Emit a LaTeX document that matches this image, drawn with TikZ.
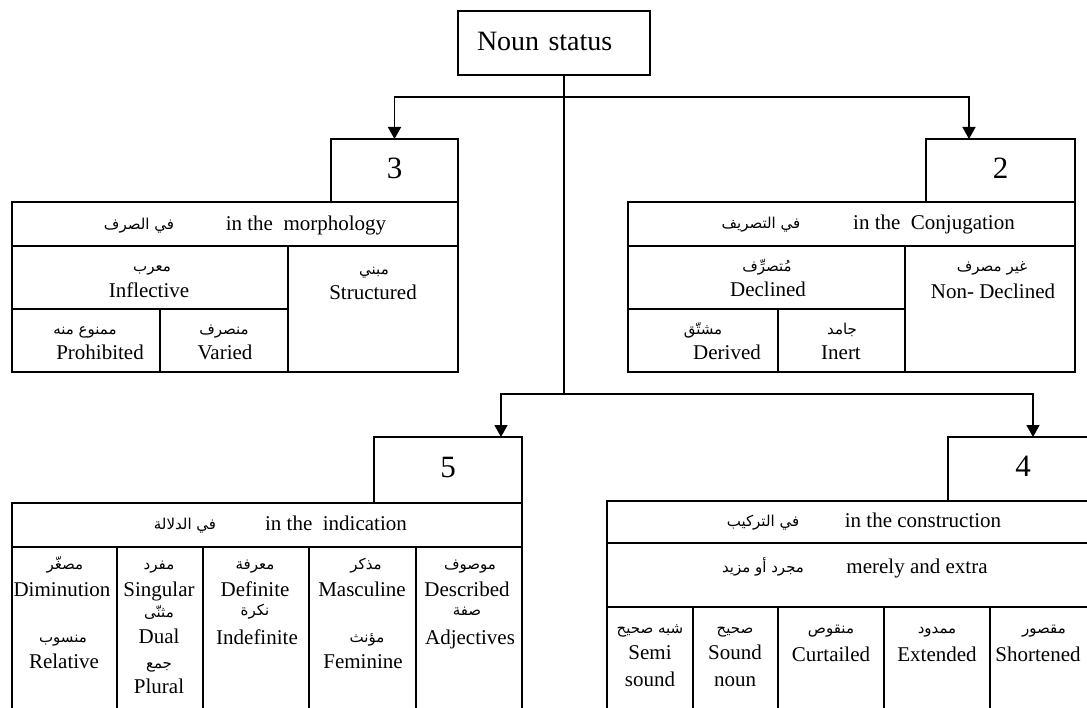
\documentclass[tikz,border=0pt]{standalone}
\usepackage{fontspec}
\setmainfont{Liberation Serif}
\newfontfamily\arabicfont[Script=Arabic]{DejaVu Sans}
\TeXXeTstate=1
\usetikzlibrary{arrows.meta}

\begin{document}
\begin{tikzpicture}[x=1bp,y=-1bp,
  ink/.style={line width=1.3bp, draw=black},
  wire/.style={line width=1.6bp, draw=black},
  framebox/.style={ink, inner sep=0pt, outer sep=0pt, anchor=north west},
  en/.style={inner sep=0pt, text height=15bp, text depth=4bp,
             font=\fontsize{21bp}{24bp}\selectfont},
  ar/.style={inner sep=0pt, text height=12bp, text depth=4bp,
             font=\arabicfont\fontsize{15bp}{17bp}\selectfont},
  numtxt/.style={font=\fontsize{31bp}{33bp}\selectfont},
  feed/.style={wire, -{Triangle[length=12bp,width=13bp]}},
]
\path[use as bounding box] (0,0) rectangle (1087,708);
\clip (0,0) rectangle (1087,708);

% ---------- root and connectors ----------
\node[framebox, minimum width=192bp, minimum height=64bp, text width=154bp,
      inner xsep=19bp, align=left, font=\fontsize{28bp}{30bp}\selectfont]
      (root) at (458,11) {\raisebox{4bp}{Noun status}};

\node[framebox, numtxt, minimum width=127bp, minimum height=63bp] (b3) at (331,139) {\raisebox{4bp}{3}};
\node[framebox, numtxt, minimum width=149bp, minimum height=63bp] (b2) at (926,139) {\raisebox{4bp}{2}};
\node[framebox, numtxt, minimum width=148bp, minimum height=66bp] (b5) at (374,437) {\raisebox{5bp}{5}};
\node[framebox, numtxt, minimum width=150bp, minimum height=64bp] (b4) at (948,437) {\raisebox{5bp}{4}};

\coordinate (j1) at (564,97);
\coordinate (j2) at (564,394);
\draw[wire] ([xshift=10bp]root.south) -- (j2);
\draw[feed] (j1) -| (b3.north);
\draw[feed] (j1) -| ([xshift=-31.5bp]b2.north);
\draw[feed] (j2) -| ([xshift=53bp]b5.north);
\draw[feed] (j2) -| ([xshift=10bp]b4.north);

% ---------- table 3: morphology ----------
\draw[ink] (12,202) rectangle (458,372);
\draw[ink] (12,246) -- (458,246);
\draw[ink] (288,246) -- (288,372);
\draw[ink] (12,309) -- (288,309);
\draw[ink] (160,309) -- (160,372);
\node[ar] (a3h) at (139,225) {\beginR في الصرف\endR};
\node[en] (e3h) at (306,225) {in the\ \ morphology};
\node[ar] (a3i) at (152,267) {\beginR معرب\endR};
\node[en] (e3i) at (149,292) {Inflective};
\node[ar] (a3s) at (374,270) {\beginR مبني\endR};
\node[en] (e3s) at (373,294) {Structured};
\node[ar] (a3p) at (85,330) {\beginR ممنوع منه\endR};
\node[en] (e3p) at (100,354) {Prohibited};
\node[ar] (a3v) at (224,330) {\beginR منصرف\endR};
\node[en] (e3v) at (225,354) {Varied};

% ---------- table 2: conjugation ----------
\draw[ink] (628,202) rectangle (1075,372);
\draw[ink] (628,246) -- (1075,246);
\draw[ink] (905,246) -- (905,372);
\draw[ink] (628,309) -- (905,309);
\draw[ink] (778,309) -- (778,372);
\node[ar] (a2h) at (761,224) {\beginR في التصريف\endR};
\node[en] (e2h) at (934,224) {in the\ \ Conjugation};
\node[ar] (a2d) at (767,267) {\beginR مُتصرِّف\endR};
\node[en] (e2d) at (768,291) {Declined};
\node[ar] (a2n) at (992,267) {\beginR غير مصرف\endR};
\node[en] (e2n) at (993,293) {Non- Declined};
\node[ar] (a2r) at (703,330) {\beginR مشتّق\endR};
\node[en] (e2r) at (727,354) {Derived};
\node[ar] (a2i) at (842,330) {\beginR جامد\endR};
\node[en] (e2i) at (841,354) {Inert};

% ---------- table 5: indication ----------
\draw[ink] (12,720) -- (12,503) -- (522,503) -- (522,720);
\draw[ink] (12,547) -- (522,547);
\foreach \cx in {117,203,309,416} \draw[ink] (\cx,547) -- (\cx,720);
\node[ar] (a5h) at (185,525) {\beginR في الدلالة\endR};
\node[en] (e5h) at (336,525) {in the\ \ indication};
% column 1
\node[ar] (a5a1) at (65,565) {\beginR مصغّر\endR};
\node[en] (e5a1) at (62,591) {Diminution};
\node[ar] (a5a2) at (63,638) {\beginR منسوب\endR};
\node[en] (e5a2) at (64,663) {Relative};
% column 2
\node[ar] (a5b1) at (159,565) {\beginR مفرد\endR};
\node[en] (e5b1) at (159,591) {Singular};
\node[ar] (a5b2) at (159,613) {\beginR مثنّى\endR};
\node[en] (e5b2) at (159,638) {Dual};
\node[ar] (a5b3) at (159,664) {\beginR جمع\endR};
\node[en] (e5b3) at (159,688) {Plural};
% column 3
\node[ar] (a5c1) at (255,565) {\beginR معرفة\endR};
\node[en] (e5c1) at (255,591) {Definite};
\node[ar] (a5c2) at (255,611) {\beginR نكرة\endR};
\node[en] (e5c2) at (257,639) {Indefinite};
% column 4
\node[ar] (a5d1) at (366,565) {\beginR مذكر\endR};
\node[en] (e5d1) at (362,591) {Masculine};
\node[ar] (a5d2) at (367,638) {\beginR مؤنث\endR};
\node[en] (e5d2) at (363,663) {Feminine};
% column 5
\node[ar] (a5e1) at (470,565) {\beginR موصوف\endR};
\node[en] (e5e1) at (467,591) {Described};
\node[ar] (a5e2) at (467,611) {\beginR صفة\endR};
\node[en] (e5e2) at (470,639) {Adjectives};

% ---------- table 4: construction ----------
\draw[ink] (607,720) -- (607,501) -- (1098,501) -- (1098,720);
\draw[ink] (607,543) -- (1098,543);
\draw[ink] (607,607) -- (1098,607);
\foreach \cx in {693,778,884,990} \draw[ink] (\cx,607) -- (\cx,720);
\node[ar] (a4h) at (763,522) {\beginR في التركيب\endR};
\node[en] (e4h) at (923,522) {in the construction};
\node[ar] (a4m) at (763,568) {\beginR مجرد أو مزيد\endR};
\node[en] (e4m) at (917,568) {merely and extra};
\node[ar] (a4a) at (650,629) {\beginR شبه صحيح\endR};
\node[en] (e4a1) at (650,654) {Semi};
\node[en] (e4a2) at (650,681) {sound};
\node[ar] (a4b) at (735,629) {\beginR صحيح\endR};
\node[en] (e4b1) at (735,654) {Sound};
\node[en] (e4b2) at (735,681) {noun};
\node[ar] (a4c) at (831,629) {\beginR منقوص\endR};
\node[en] (e4c) at (831,656) {Curtailed};
\node[ar] (a4d) at (937,629) {\beginR ممدود\endR};
\node[en] (e4d) at (937,656) {Extended};
\node[ar] (a4e) at (1044,629) {\beginR مقصور\endR};
\node[en] (e4e) at (1038,656) {Shortened};
\end{tikzpicture}
\end{document}
